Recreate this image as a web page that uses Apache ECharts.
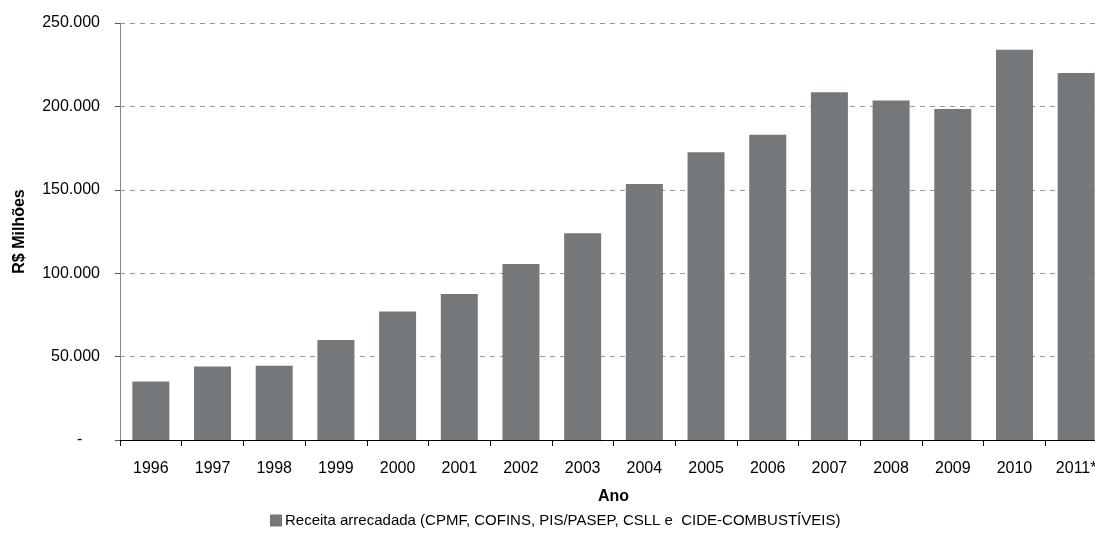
<!DOCTYPE html>
<html>
<head>
<meta charset="utf-8">
<script src="https://cdn.jsdelivr.net/npm/echarts@6/dist/echarts.min.js"></script>
<style>
  html, body { margin: 0; padding: 0; background: #fff; }
  #chart { width: 1095px; height: 556px; }
</style>
</head>
<body>
<div id="chart"></div>
<script>
const anos = ['1996', '1997', '1998', '1999', '2000', '2001', '2002', '2003',
  '2004', '2005', '2006', '2007', '2008', '2009', '2010', '2011*'];
const receita = [35000, 44000, 44500, 60000, 77000, 87500, 105500, 124000,
  153500, 172500, 183000, 208500, 203500, 198500, 234000, 220000];
const serieNome = 'Receita arrecadada (CPMF, COFINS, PIS/PASEP, CSLL e  CIDE-COMBUSTÍVEIS)';

// excel-style: dot thousands, dash for zero
function fmt(v) {
  if (v === 0) return '-    ';
  return String(v).replace(/\B(?=(\d{3})+(?!\d))/g, '.');
}

var myChart = echarts.init(document.getElementById('chart'));
const option = {
  animation: false,
  textStyle: { fontFamily: 'Liberation Sans, Arial, sans-serif' },
  // plot runs past the right edge, like the original image
  grid: { left: 120, top: 23, width: 987, height: 417, outerBoundsMode: 'none' },
  legend: {
    data: [serieNome],
    bottom: 23,
    left: 265,
    itemWidth: 12,
    itemHeight: 12,
    itemGap: 4,
    icon: 'rect',
    textStyle: { color: '#000', fontSize: 15, padding: [0, 0, 0, -2] }
  },
  xAxis: {
    type: 'category',
    data: anos,
    name: 'Ano',
    nameLocation: 'middle',
    nameGap: 49,
    nameTextStyle: { fontWeight: 'bold', fontSize: 16, color: '#000' },
    axisLine: { lineStyle: { color: '#000', width: 1 } },
    axisTick: { show: true, length: 6, lineStyle: { color: '#000' } },
    axisLabel: { color: '#000', fontSize: 16, margin: 21 }
  },
  yAxis: {
    type: 'value',
    min: 0,
    max: 250000,
    interval: 50000,
    name: 'R$ Milhões',
    nameLocation: 'middle',
    nameGap: 92,
    nameTextStyle: { fontWeight: 'bold', fontSize: 16, color: '#000' },
    axisLine: { show: true, lineStyle: { color: '#888', width: 1 } },
    axisTick: { show: true, length: 5, lineStyle: { color: '#555' } },
    axisLabel: { color: '#000', fontSize: 16, margin: 20, formatter: fmt },
    splitLine: { lineStyle: { color: '#999', type: [5, 5], width: 1 } }
  },
  series: [{
    name: serieNome,
    type: 'bar',
    data: receita,
    barWidth: 37,
    itemStyle: { color: '#75787b' }
  }]
};
myChart.setOption(option);
</script>
</body>
</html>
